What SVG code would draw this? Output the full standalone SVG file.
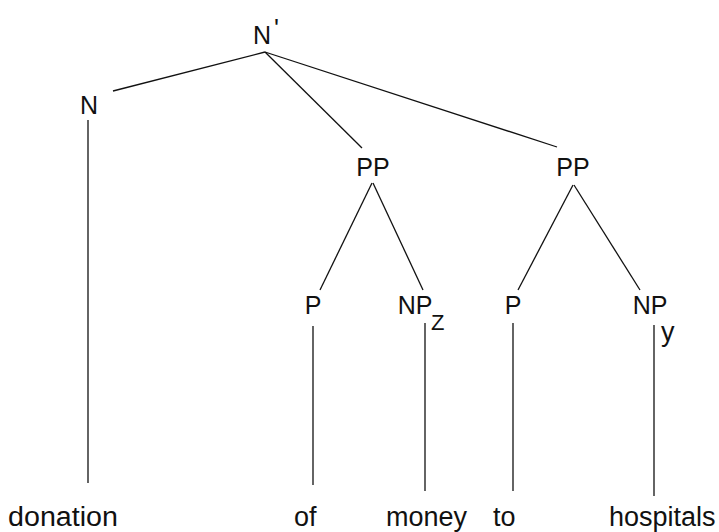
<svg xmlns="http://www.w3.org/2000/svg" width="719" height="532" viewBox="0 0 719 532">
<style>
.lbl{font-family:"Liberation Sans",Arial,sans-serif;font-size:25px;fill:#111;text-anchor:middle}
.word{font-family:"Liberation Sans",Arial,sans-serif;font-size:27px;fill:#111}
.sub{font-family:"Liberation Sans",Arial,sans-serif;fill:#111}
.edge{stroke:#111;stroke-width:1.3;fill:none}
</style>
<rect width="719" height="532" fill="#fff"/>
<g id="connectors">
<line class="edge" x1="265" y1="52" x2="113" y2="91"/>
<line class="edge" x1="265" y1="52" x2="362" y2="148"/>
<line class="edge" x1="265" y1="52" x2="557" y2="147"/>
<line class="edge" x1="88" y1="120" x2="88" y2="483"/>
<line class="edge" x1="372" y1="183" x2="320" y2="290"/>
<line class="edge" x1="373" y1="183" x2="423" y2="290"/>
<line class="edge" x1="573" y1="185" x2="518" y2="290"/>
<line class="edge" x1="574" y1="185" x2="640" y2="290"/>
<line class="edge" x1="313" y1="326" x2="313" y2="485"/>
<line class="edge" x1="425" y1="323" x2="425" y2="491"/>
<line class="edge" x1="513" y1="323" x2="513" y2="491"/>
<line class="edge" x1="654" y1="325" x2="654" y2="496"/>
</g>
<g id="n-bar"><text class="lbl" x="262" y="44">N</text><text class="sub" x="274" y="37" font-size="26">'</text></g>
<g id="n"><text class="lbl" x="89" y="114">N</text></g>
<g id="pp1"><text class="lbl" x="373" y="176">PP</text></g>
<g id="pp2"><text class="lbl" x="573" y="176">PP</text></g>
<g id="p1"><text class="lbl" x="313" y="314">P</text></g>
<g id="npz"><text class="lbl" x="415" y="314">NP</text><text class="sub" x="431" y="330" font-size="22">Z</text></g>
<g id="p2"><text class="lbl" x="513" y="314">P</text></g>
<g id="npy"><text class="lbl" x="650" y="314">NP</text><text class="sub" x="661" y="341" font-size="27">y</text></g>
<g id="w-donation"><text class="word" x="8" y="526" textLength="110" lengthAdjust="spacingAndGlyphs">donation</text></g>
<g id="w-of"><text class="word" x="294" y="526">of</text></g>
<g id="w-money"><text class="word" x="386" y="526">money</text></g>
<g id="w-to"><text class="word" x="493" y="526">to</text></g>
<g id="w-hospitals"><text class="word" x="609" y="526">hospitals</text></g>
</svg>
